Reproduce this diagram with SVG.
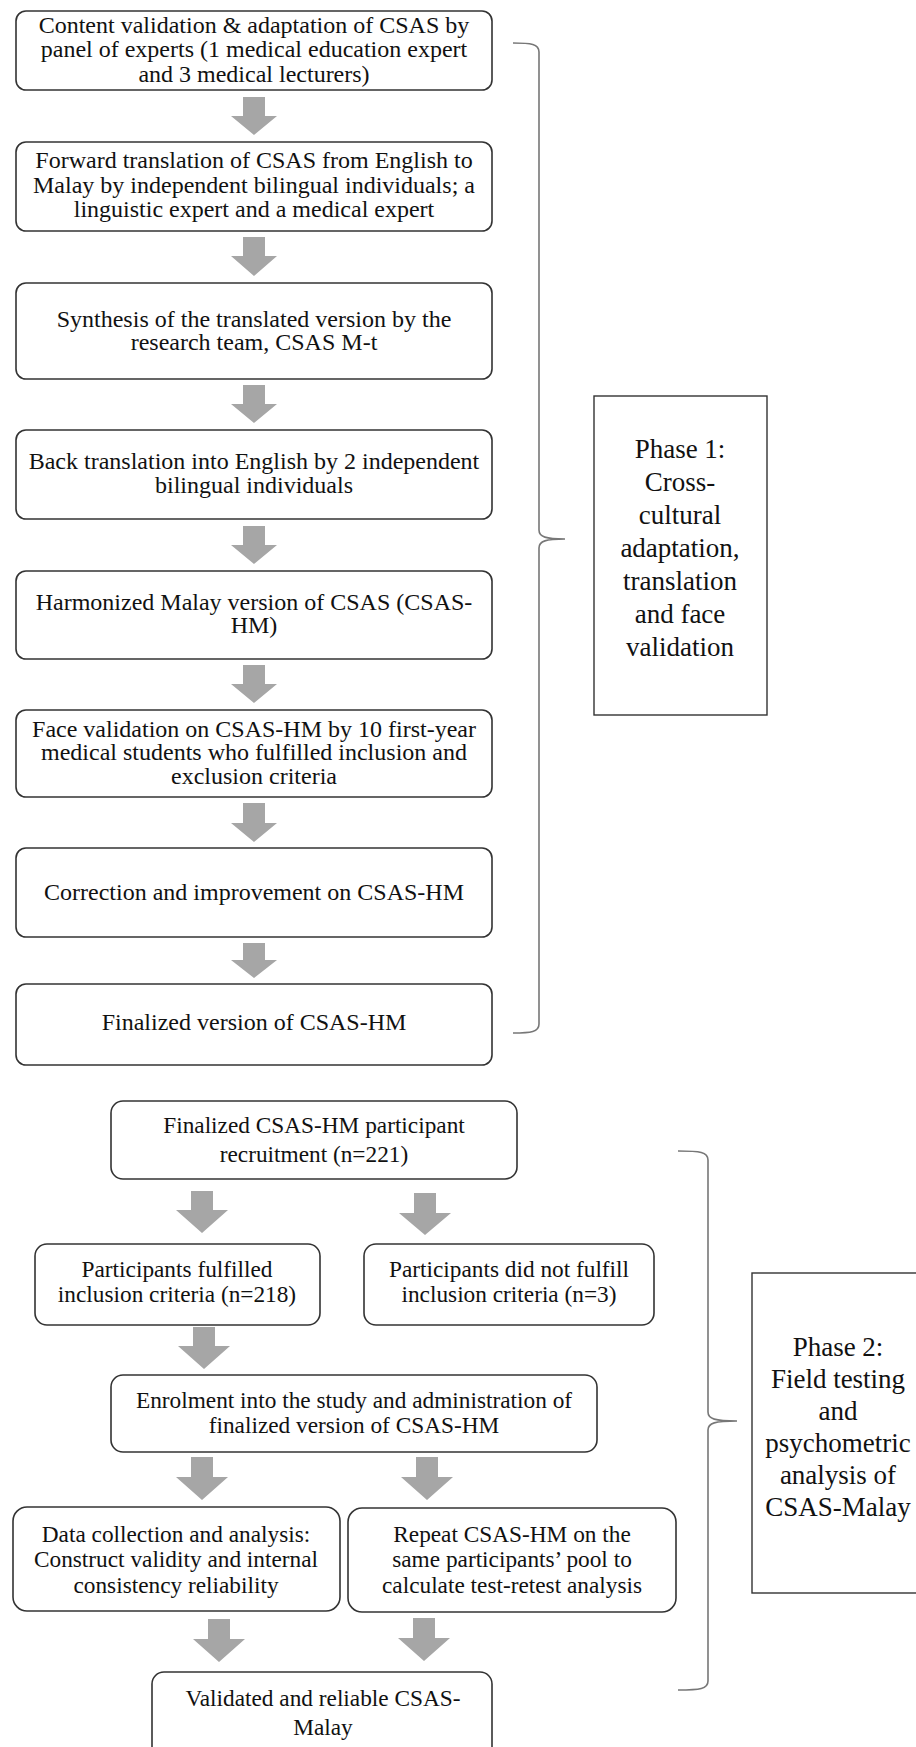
<svg xmlns="http://www.w3.org/2000/svg" width="916" height="1747" viewBox="0 0 916 1747">
<style>
.box{fill:#fff;stroke:#333;stroke-width:1.6}
.t{font-family:"Liberation Serif","Times New Roman",serif;font-size:24px;fill:#111;text-anchor:middle}
.t2{font-family:"Liberation Serif","Times New Roman",serif;font-size:23.3px;fill:#111;text-anchor:middle}
.ph{font-family:"Liberation Serif","Times New Roman",serif;font-size:27px;fill:#111;text-anchor:middle}
.arr{fill:#a6a6a6}
.brace{fill:none;stroke:#777;stroke-width:1.6}
.pbox{fill:#fff;stroke:#333;stroke-width:1.4}
</style>
<rect width="916" height="1747" fill="#fff"/>
<g id="connectors">
<path class="arr" d="M243,97H265V116H277L254,135L231,116H243Z"/>
<path class="arr" d="M243,237H265V256H277L254,276L231,256H243Z"/>
<path class="arr" d="M243,385H265V404H277L254,423L231,404H243Z"/>
<path class="arr" d="M243,526H265V545H277L254,564L231,545H243Z"/>
<path class="arr" d="M243,665H265V684H277L254,703L231,684H243Z"/>
<path class="arr" d="M243,803H265V823H277L254,842L231,823H243Z"/>
<path class="arr" d="M243,943H265V960H277L254,978L231,960H243Z"/>
<path class="arr" d="M191,1191H213V1210H228L202,1233L176,1210H191Z"/>
<path class="arr" d="M414,1193H436V1213H451L425,1235L399,1213H414Z"/>
<path class="arr" d="M193,1327H215V1346H230L204,1369L178,1346H193Z"/>
<path class="arr" d="M191,1457H213V1477H228L202,1500L176,1477H191Z"/>
<path class="arr" d="M416,1457H438V1477H453L427,1500L401,1477H416Z"/>
<path class="arr" d="M208,1619H230V1639H245L219,1662L193,1639H208Z"/>
<path class="arr" d="M413,1618H435V1638H450L424,1661L398,1638H413Z"/>
<path class="brace" d="M513,43C531,43 539,44 539,52L539,530C539,537 546,539 565,539C546,539 539,541 539,548L539,1024C539,1032 531,1033 513,1033"/>
<path class="brace" d="M678,1151C700,1151 708,1152 708,1160L708,1412C708,1419 715,1421 737,1421C715,1421 708,1423 708,1430L708,1681C708,1689 700,1690 678,1690"/>
</g>
<g id="n1"><rect class="box" x="16" y="11" width="476" height="79" rx="10"/>
<text class="t" x="254" y="33">Content validation &amp; adaptation of CSAS by</text>
<text class="t" x="254" y="57">panel of experts (1 medical education expert</text>
<text class="t" x="254" y="82">and 3 medical lecturers)</text></g>
<g id="n2"><rect class="box" x="16" y="142" width="476" height="89" rx="10"/>
<text class="t" x="254" y="168">Forward translation of CSAS from English to</text>
<text class="t" x="254" y="193">Malay by independent bilingual individuals; a</text>
<text class="t" x="254" y="217">linguistic expert and a medical expert</text></g>
<g id="n3"><rect class="box" x="16" y="283" width="476" height="96" rx="10"/>
<text class="t" x="254" y="327">Synthesis of the translated version by the</text>
<text class="t" x="254" y="350">research team, CSAS M-t</text></g>
<g id="n4"><rect class="box" x="16" y="430" width="476" height="89" rx="10"/>
<text class="t" x="254" y="469">Back translation into English by 2 independent</text>
<text class="t" x="254" y="493">bilingual individuals</text></g>
<g id="n5"><rect class="box" x="16" y="571" width="476" height="88" rx="10"/>
<text class="t" x="254" y="610">Harmonized Malay version of CSAS (CSAS-</text>
<text class="t" x="254" y="633">HM)</text></g>
<g id="n6"><rect class="box" x="16" y="710" width="476" height="87" rx="10"/>
<text class="t" x="254" y="737">Face validation on CSAS-HM by 10 first-year</text>
<text class="t" x="254" y="760">medical students who fulfilled inclusion and</text>
<text class="t" x="254" y="784">exclusion criteria</text></g>
<g id="n7"><rect class="box" x="16" y="848" width="476" height="89" rx="10"/>
<text class="t" x="254" y="900">Correction and improvement on CSAS-HM</text></g>
<g id="n8"><rect class="box" x="16" y="984" width="476" height="81" rx="10"/>
<text class="t" x="254" y="1030">Finalized version of CSAS-HM</text></g>
<g id="phase1"><rect class="pbox" x="594" y="396" width="173" height="319"/>
<text class="ph" x="680" y="458">Phase 1:</text>
<text class="ph" x="680" y="491">Cross-</text>
<text class="ph" x="680" y="524">cultural</text>
<text class="ph" x="680" y="557">adaptation,</text>
<text class="ph" x="680" y="590">translation</text>
<text class="ph" x="680" y="623">and face</text>
<text class="ph" x="680" y="656">validation</text></g>
<g id="p1"><rect class="box" x="111" y="1101" width="406" height="78" rx="12"/>
<text class="t2" x="314" y="1133">Finalized CSAS-HM participant</text>
<text class="t2" x="314" y="1162">recruitment (n=221)</text></g>
<g id="p2a"><rect class="box" x="35" y="1244" width="285" height="81" rx="12"/>
<text class="t2" x="177" y="1277">Participants fulfilled</text>
<text class="t2" x="177" y="1302">inclusion criteria (n=218)</text></g>
<g id="p2b"><rect class="box" x="364" y="1244" width="290" height="81" rx="12"/>
<text class="t2" x="509" y="1277">Participants did not fulfill</text>
<text class="t2" x="509" y="1302">inclusion criteria (n=3)</text></g>
<g id="p3"><rect class="box" x="111" y="1375" width="486" height="77" rx="12"/>
<text class="t2" x="354" y="1408">Enrolment into the study and administration of</text>
<text class="t2" x="354" y="1433">finalized version of CSAS-HM</text></g>
<g id="p4a"><rect class="box" x="13" y="1507" width="327" height="104" rx="14"/>
<text class="t2" x="176" y="1542">Data collection and analysis:</text>
<text class="t2" x="176" y="1567">Construct validity and internal</text>
<text class="t2" x="176" y="1593">consistency reliability</text></g>
<g id="p4b"><rect class="box" x="348" y="1508" width="328" height="104" rx="14"/>
<text class="t2" x="512" y="1542">Repeat CSAS-HM on the</text>
<text class="t2" x="512" y="1567">same participants’ pool to</text>
<text class="t2" x="512" y="1593">calculate test-retest analysis</text></g>
<g id="p5"><rect class="box" x="152" y="1672" width="340" height="90" rx="12"/>
<text class="t2" x="323" y="1706">Validated and reliable CSAS-</text>
<text class="t2" x="323" y="1735">Malay</text></g>
<g id="phase2"><rect class="pbox" x="752" y="1273" width="180" height="320"/>
<text class="ph" x="838" y="1356">Phase 2:</text>
<text class="ph" x="838" y="1388">Field testing</text>
<text class="ph" x="838" y="1420">and</text>
<text class="ph" x="838" y="1452">psychometric</text>
<text class="ph" x="838" y="1484">analysis of</text>
<text class="ph" x="838" y="1516">CSAS-Malay</text></g>
</svg>
